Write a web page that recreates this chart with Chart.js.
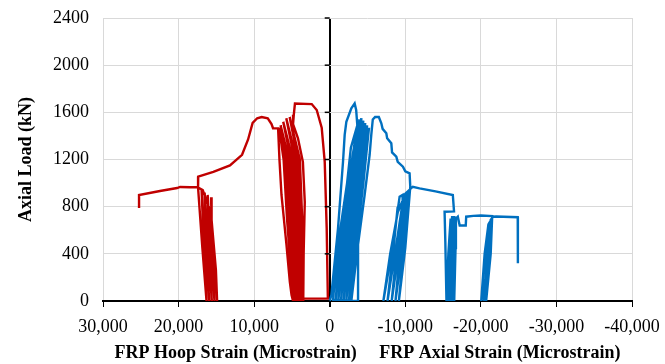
<!DOCTYPE html>
<html>
<head>
<meta charset="utf-8">
<script src="https://cdn.jsdelivr.net/npm/chart.js@4.4.1/dist/chart.umd.min.js"></script>
<style>
  body { margin: 0; background: #fff; }
  #wrap { width: 665px; height: 364px; }
</style>
</head>
<body>
<div id="wrap"><canvas id="grafico"></canvas></div>
<script>
// FRP hoop strain (positive, left half) vs axial load
const hoopStrain = [4700, 300, 250, 400, 660, 1060, 1720, 2380, 4600, 4750, 4850,
  4200, 3550, 3300, 3450, 3500,
  3650, 3950, 5300, 4200, 3850, 3700,
  4000, 4400, 5750, 4650, 4300, 4000,
  4450, 4900, 6150, 5150, 4750, 4300,
  4900, 5400, 6500, 5650, 5200, 4600,
  5350, 5900, 6700, 6100, 5650, 4850,
  5050, 5280, 5720, 6070, 6380, 6650, 6830,
  7500, 7700, 8200, 9000, 9600, 10200, 10800, 11600, 13200, 15400, 17400, 17420,
  16850, 16300, 16650, 16950,
  16450, 15950, 16300, 16550,
  16100, 15600, 15950, 16150,
  15750, 15250, 15550, 15700,
  15630, 15060, 14900, 15400, 16000, 16800, 17500,
  18500, 19800, 20200, 22460, 25230, 25230];
const hoopLoad = [20, 20, 40, 620, 1180, 1470, 1620, 1670, 1675, 1580, 1500,
  1380, 1180, 840, 400, 0,
  700, 1200, 1560, 1200, 700, 0,
  700, 1200, 1550, 1200, 700, 0,
  700, 1200, 1520, 1200, 700, 0,
  700, 1200, 1490, 1200, 700, 0,
  700, 1200, 1470, 1200, 700, 0,
  51, 164, 475, 700, 899, 1200, 1464,
  1465, 1500, 1550, 1560, 1550, 1510, 1370, 1240, 1150, 1095, 1055, 960,
  450, 0, 450, 940,
  450, 0, 450, 920,
  450, 0, 450, 900,
  450, 0, 450, 880,
  687, 263, 0, 450, 800, 940, 965,
  965, 967, 958, 933, 899, 789];

// FRP axial strain (negative, right half) vs axial load
const axialStrain = [0, -220, -1100, -1760, -1980, -2200, -2860, -3300, -3500, -3700,
  -3750, -3750, -440,
  -1150, -2300, -2800, -3700, -2450, -1320, -790,
  -1520, -2650, -3950, -2800, -1690, -1140,
  -1890, -3000, -4200, -3150, -2060, -1490,
  -2260, -3350, -4450, -3500, -2430, -1840,
  -2630, -3700, -4700, -3850, -2800, -2190,
  -3000, -4050, -4950, -4200, -3170, -2540,
  -3370, -4400, -5200, -4450, -3540, -2860,
  -3740, -4620, -5280, -5500, -5700,
  -6000, -6500, -6830, -7000, -7490, -7600, -8150, -8250, -8810, -9000,
  -9690, -10000, -10570, -10660,
  -10000, -9150, -9800, -10450, -9650, -8700, -9350, -10150, -9200, -8200, -8900,
  -9800, -8750, -7650, -8450, -8980, -9650, -9650, -9250, -8300, -7100, -8000,
  -9000, -10000, -11000,
  -11890, -14000, -16290, -16450, -15200, -15300, -15450, -15700, -16000, -15800,
  -15700, -15900, -16200, -16000, -15950, -16150, -16350, -16250, -16200, -16400,
  -16500, -16450, -16500, -16650, -16700, -16950, -17200, -18000, -18060, -19000,
  -20000, -21500, -21300, -20700, -21000, -21400, -21100, -20400, -20800, -21300,
  -20900, -20050, -20500, -21000, -21600, -22020, -24880, -24900];
const axialLoad = [0, 50, 616, 1181, 1408, 1520, 1634, 1676, 1620, 1450,
  800, 0, 10,
  500, 1000, 1300, 1500, 1000, 500, 0,
  500, 1000, 1540, 1000, 500, 0,
  500, 1000, 1550, 1000, 500, 0,
  500, 1000, 1530, 1000, 500, 0,
  500, 1000, 1510, 1000, 500, 0,
  500, 1000, 1490, 1000, 500, 0,
  500, 1000, 1470, 1000, 500, 0,
  475, 899, 1238, 1408, 1540,
  1560, 1560, 1507, 1460, 1422, 1380, 1337, 1260, 1224, 1180,
  1139, 1100, 1083, 969,
  450, 0, 450, 930, 450, 0, 450, 915, 450, 0, 450,
  900, 450, 0, 450, 790, 790, 900, 885, 450, 0, 400,
  750, 910, 969,
  955, 930, 899, 760, 757, 500, 0, 400, 700, 400,
  0, 400, 720, 400, 0, 400, 720, 350, 0, 400,
  720, 300, 0, 450, 700, 715, 640, 640, 715, 722,
  725, 720, 400, 0, 400, 700, 350, 0, 400, 690,
  300, 0, 400, 650, 715, 716, 710, 320];

const xTicksTitle = 'FRP Hoop Strain (Microstrain)\u00a0\u00a0\u00a0\u00a0 FRP Axial Strain (Microstrain)';

const toPoints = (xs, ys) => xs.map((v, i) => ({ x: v, y: ys[i] }));

const tickFont = { family: "'Liberation Serif', 'Times New Roman', serif", size: 18 };
const titleFont = { family: "'Liberation Serif', 'Times New Roman', serif", size: 18, weight: 'bold' };

// small tick marks on the zero (vertical) axis line
const zeroTicks = {
  id: 'zeroTicks',
  afterDraw(chart) {
    const { ctx, scales: { x, y } } = chart;
    const px = x.getPixelForValue(0);
    ctx.save();
    ctx.strokeStyle = '#000';
    ctx.lineWidth = 1.5;
    y.ticks.forEach(t => {
      const py = y.getPixelForValue(t.value);
      ctx.beginPath();
      ctx.moveTo(px - 5, py);
      ctx.lineTo(px, py);
      ctx.stroke();
    });
    ctx.restore();
  }
};

const ctx = document.getElementById('grafico').getContext('2d');
new Chart(ctx, {
  type: 'scatter',
  data: {
    datasets: [{
      label: 'FRP Hoop Strain',
      data: toPoints(hoopStrain, hoopLoad),
      showLine: true,
      borderColor: '#C00000',
      backgroundColor: '#C00000',
      borderWidth: 2.4,
      pointRadius: 0,
      tension: 0,
      order: 1
    }, {
      label: 'FRP Axial Strain',
      data: toPoints(axialStrain, axialLoad),
      showLine: true,
      borderColor: '#0070C0',
      backgroundColor: '#0070C0',
      borderWidth: 2.4,
      pointRadius: 0,
      tension: 0,
      order: 0
    }]
  },
  options: {
    responsive: true,
    maintainAspectRatio: false,
    animation: false,
    layout: { padding: { top: 18, right: 33, bottom: 0, left: 0 } },
    plugins: {
      legend: { display: false },
      tooltip: { enabled: false }
    },
    scales: {
      x: {
        type: 'linear',
        reverse: true,
        min: -40000,
        max: 30000,
        ticks: { stepSize: 10000, color: '#000', font: tickFont, padding: 9, maxRotation: 0 },
        grid: {
          color: c => (c.tick && c.tick.value === 0) ? '#000' : '#d9d9d9',
          lineWidth: c => (c.tick && c.tick.value === 0) ? 2 : 1,
          tickColor: '#000',
          tickLength: 6
        },
        border: { display: true, color: '#000', width: 2 },
        title: { display: true, text: xTicksTitle, color: '#000', font: titleFont, padding: { top: 2, bottom: 0 } },
        afterFit: s => { s.height = 63; s.paddingLeft = 0; s.paddingRight = 0; }
      },
      y: {
        min: 0,
        max: 2400,
        ticks: { stepSize: 400, color: '#000', font: tickFont, padding: 14, callback: v => String(v) },
        grid: { color: '#d9d9d9', drawTicks: false },
        border: { display: false },
        title: { display: true, text: 'Axial Load (kN)', color: '#000', font: titleFont, padding: { top: 16, bottom: 0 } },
        afterFit: s => { s.width = 103; s.paddingTop = 0; s.paddingBottom = 0; }
      }
    }
  },
  plugins: [zeroTicks]
});
</script>
</body>
</html>
